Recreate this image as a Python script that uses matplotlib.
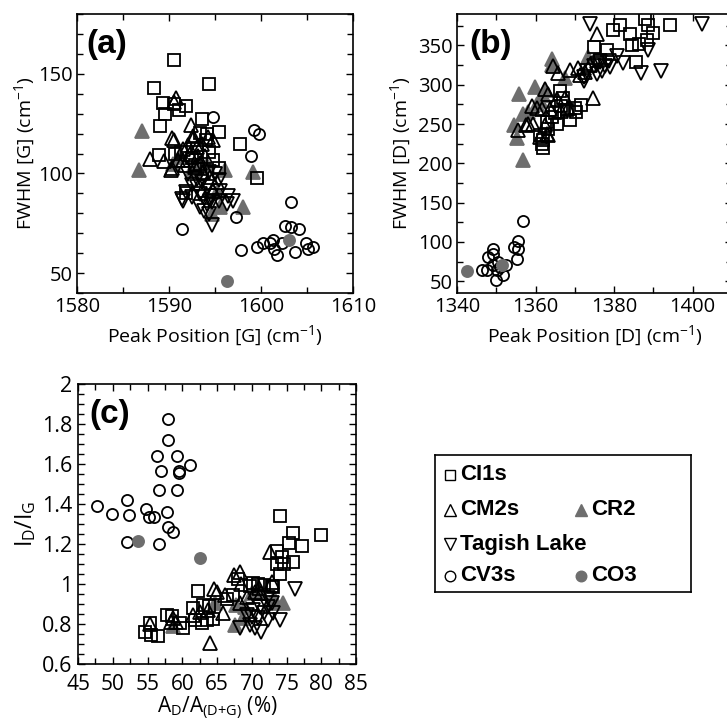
import matplotlib
matplotlib.use('Agg')
import matplotlib.pyplot as plt
from matplotlib.ticker import MultipleLocator, FormatStrFormatter
from matplotlib.lines import Line2D

plt.rcParams['font.family'] = ['Open Sans', 'DejaVu Sans']
plt.rcParams['mathtext.fontset'] = 'custom'
plt.rcParams['mathtext.rm'] = 'Open Sans'
plt.rcParams['mathtext.it'] = 'Open Sans'
plt.rcParams['mathtext.default'] = 'regular'

GRAY = '#6e6e6e'

# ---- panel (a): G band, peak position vs FWHM ----
a_ci_x = [1590.6, 1594.3, 1588.4, 1589.3, 1589.6, 1589.0, 1590.5, 1591.1, 1591.9, 1593.6, 1593.4, 1594.1, 1595.4,
          1597.7, 1599.6, 1588.9, 1590.7, 1591.3, 1593.0, 1594.4, 1594.8, 1595.4, 1591.9, 1592.5, 1594.0, 1592.8]
a_ci_y = [157, 145, 143, 135.5, 130, 124, 135, 132, 134, 127.5, 120.5, 120, 121,
          115, 97.5, 109.5, 110, 111, 113, 111, 107, 102.5, 90, 108, 117, 104]
a_cm_x = [1590.8, 1590.5, 1590.3, 1590.6, 1592.4, 1587.9, 1589.5, 1590.2, 1591.0, 1591.5, 1591.7, 1592.6, 1593.0,
          1593.6, 1594.2, 1594.8, 1593.4, 1593.9, 1592.3, 1592.8, 1594.5, 1595.2, 1594.8, 1592.1, 1593.2, 1593.7,
          1591.5, 1592.6, 1590.3]
a_cm_y = [137.7, 136, 118, 117, 124.2, 107.4, 106.2, 101.9, 107, 112.5, 104, 117.5, 113.3,
          115, 118.3, 116.7, 105, 109, 110, 103, 98, 95.6, 91.4, 114.5, 109, 100.7,
          106.6, 119, 102.5]
a_tl_x = [1593.0, 1591.9, 1591.5, 1592.5, 1593.4, 1594.1, 1594.5, 1593.8, 1594.7, 1595.4, 1595.5, 1596.3, 1596.4,
          1597.0, 1594.7, 1594.4, 1594.3, 1593.6, 1593.0, 1592.5, 1593.7, 1591.4, 1592.1, 1595.0, 1595.4, 1593.4,
          1594.1, 1594.6]
a_tl_y = [97.3, 90.6, 86.4, 88, 89.7, 93, 86.4, 81.3, 85.5, 96.5, 91.4, 84.7, 88.9,
          86.4, 74.2, 79.6, 100.7, 95.6, 93.1, 94, 88, 87.2, 99.8, 99.8, 86.4, 83,
          84.7, 88.9]
a_cv_x = [1594.8, 1599.2, 1599.8, 1598.9, 1603.3, 1591.4, 1597.3, 1597.8, 1599.6, 1600.2, 1601.0, 1601.3, 1601.4,
          1601.7, 1602.3, 1602.6, 1603.3, 1604.1, 1603.7, 1604.9, 1605.1, 1605.7]
a_cv_y = [128.5, 122, 120, 109, 85.5, 71.9, 78, 61.4, 63.3, 65.3, 65.3, 66.5, 62,
          59.1, 65.3, 73.6, 73.2, 71.9, 60.8, 65.3, 62, 63.3]
a_cr_x = [1587.1, 1586.7, 1590.4, 1591.2, 1592.5, 1593.2, 1594.1, 1596.1, 1599.1, 1598.1, 1595.5, 1594.7, 1595.2, 1592.8]
a_cr_y = [121.4, 101.9, 104.9, 108.2, 102.4, 103.2, 104, 101.9, 100.7, 83, 83, 79.6, 90.6, 101.5]
a_co_x = [1603.1, 1596.3]
a_co_y = [66.5, 46]

# ---- panel (b): D band ----
b_ci_x = [1388.0, 1388.7, 1390.0, 1388.3, 1386.4, 1384.7, 1384.0, 1381.5, 1379.8, 1394.2, 1385.5, 1375.0, 1378.3,
          1376.4, 1371.7, 1370.0, 1368.7, 1366.2, 1367.1, 1366.6, 1364.9, 1365.4, 1364.1, 1362.8, 1361.1, 1361.9,
          1361.9, 1361.6, 1363.2, 1367.9, 1370.4]
b_ci_y = [384, 375.7, 366, 356.5, 352.2, 350, 364.9, 375.5, 369.2, 375.5, 329, 348, 344.7,
          331, 274, 270, 255.5, 291.8, 283.4, 273, 264.5, 250, 258.5, 252, 235.6, 229.3,
          219.5, 225, 244, 267.3, 265]
b_cm_x = [1375.7, 1374.7, 1370.7, 1368.7, 1372.6, 1373.9, 1365.8, 1364.5, 1362.4, 1363.2, 1365.4, 1367.5, 1360.3,
          1359.0, 1363.7, 1366.6, 1368.3, 1359.4, 1358.2, 1362.4, 1362.8, 1363.2, 1361.1, 1361.6, 1371.3, 1355.6,
          1357.6]
b_cm_y = [365.1, 283.7, 321.7, 319.1, 316.5, 324.9, 314.8, 323.5, 294.3, 287.8, 281.6, 283.7, 271,
          273, 269, 267, 271, 250.5, 250.5, 248.4, 237.7, 235.6, 233.5, 269, 312.3, 242,
          248.5]
b_tl_x = [1373.9, 1388.7, 1402.4, 1386.9, 1391.9, 1382.4, 1380.7, 1378.6, 1377.8, 1376.5, 1375.7, 1374.8, 1373.2,
          1372.3, 1375.7, 1377.0, 1372.3, 1379.1]
b_tl_y = [377.6, 343.7, 376.8, 314.9, 317, 327.4, 337, 330.7, 324.3, 328.5, 326.4, 324.3, 317.9,
          309.4, 313.6, 318, 305.2, 322.2]
b_cv_x = [1356.9, 1355.6, 1355.6, 1355.2, 1354.5, 1349.2, 1348.0, 1349.2, 1346.3, 1347.7, 1349.1, 1350.1, 1350.4,
          1350.9, 1352.5, 1351.6, 1349.9]
b_cv_y = [127.2, 91.6, 101.3, 78.8, 93.7, 85.2, 81, 91.6, 64.8, 64.8, 70.4, 64.8, 74.6,
          68.2, 70.4, 57.6, 51.3]
b_cr_x = [1355.9, 1354.5, 1355.2, 1356.9, 1359.8, 1361.1, 1362.4, 1364.1, 1364.3, 1367.5, 1356.9, 1360.3, 1361.8,
          1373.4, 1358.2]
b_cr_y = [288.8, 248.5, 232.8, 204, 297.2, 280.3, 293, 333.3, 324.8, 309.1, 263.3, 276, 286.6,
          335.4, 265.5]
b_co_x = [1342.6, 1351.4]
b_co_y = [63.1, 70.4]

# ---- panel (c): ID/IG vs AD/A(D+G) ----
c_ci_x = [74.0, 76.0, 75.3, 77.3, 80.0, 73.6, 74.3, 73.7, 74.6, 76.0, 74.1, 73.1, 62.2, 54.6, 55.5, 56.5, 55.4,
          57.8, 58.5, 60.1, 59.7, 61.6, 62.8, 63.9, 64.4, 66.4, 68.0, 70.2, 70.9, 71.7, 72.9, 69.7, 67.3, 63.0,
          61.8, 63.5]
c_ci_y = [1.342, 1.253, 1.207, 1.19, 1.243, 1.167, 1.133, 1.1, 1.1, 1.112, 1.052, 0.987, 0.967, 0.762, 0.745,
          0.742, 0.807, 0.843, 0.84, 0.778, 0.803, 0.878, 0.803, 0.892, 0.827, 0.925, 1.023, 1.007, 1.0, 0.995,
          0.99, 0.99, 0.945, 0.895, 0.82, 0.82]
c_cm_x = [67.5, 68.3, 68.5, 64.5, 65.0, 66.2, 72.9, 64.0, 65.9, 61.6, 62.6, 63.7, 69.3, 70.5, 71.4, 68.3, 55.4,
          58.7, 58.4, 59.1, 72.6, 71.0]
c_cm_y = [1.045, 1.062, 1.0, 0.973, 0.962, 0.945, 1.012, 0.703, 0.853, 0.845, 0.862, 0.87, 0.937, 0.962, 0.953,
          0.903, 0.798, 0.832, 0.812, 0.81, 1.16, 0.98]
c_tl_x = [76.2, 74.1, 72.4, 72.9, 71.2, 70.2, 69.3, 68.3, 69.7, 70.5, 71.4, 72.4, 73.1, 70.9, 72.4, 71.7, 70.0]
c_tl_y = [0.973, 0.82, 0.928, 0.903, 0.887, 0.87, 0.845, 0.778, 0.795, 0.778, 0.762, 0.82, 0.853, 0.828, 0.887,
          0.853, 0.837]
c_cv_x = [47.8, 49.9, 52.1, 52.3, 52.0, 54.8, 55.2, 55.9, 56.7, 56.3, 56.9, 56.7, 57.9, 57.9, 57.8, 58.0, 58.6,
          59.3, 59.5, 59.5, 59.3, 61.1]
c_cv_y = [1.39, 1.35, 1.42, 1.345, 1.21, 1.373, 1.337, 1.337, 1.2, 1.64, 1.565, 1.47, 1.823, 1.72, 1.36, 1.287,
          1.258, 1.642, 1.565, 1.557, 1.47, 1.595]
c_cr_x = [58.6, 64.7, 67.8, 68.8, 67.6, 72.6, 74.5, 70.0, 71.2, 69.0, 73.2]
c_cr_y = [0.79, 0.903, 0.895, 0.828, 0.795, 0.903, 0.903, 0.953, 0.962, 0.887, 0.93]
c_co_x = [53.7, 62.6]
c_co_y = [1.213, 1.128]

styles = {
    'CI1s': dict(marker='s', ms=8, mfc='none', mec='black'),
    'CM2s': dict(marker='^', ms=9.5, mfc='none', mec='black'),
    'Tagish Lake': dict(marker='v', ms=9.5, mfc='none', mec='black'),
    'CV3s': dict(marker='o', ms=8, mfc='none', mec='black'),
    'CR2': dict(marker='^', ms=9.5, mfc=GRAY, mec=GRAY),
    'CO3': dict(marker='o', ms=8, mfc=GRAY, mec=GRAY),
}


def draw_panel(ax, data, tag, tag_x):
    for name in ['CR2', 'CI1s', 'CM2s', 'Tagish Lake', 'CV3s', 'CO3']:
        xs, ys = data[name]
        ax.plot(xs, ys, ls='none', mew=1.3, **styles[name])
    ax.tick_params(which='both', direction='in', top=True, right=True, width=1, labelsize=14.5, pad=3)
    ax.tick_params(which='major', length=5)
    ax.tick_params(which='minor', length=4)
    for s in ax.spines.values():
        s.set_linewidth(1.2)
    ax.text(tag_x, 0.89, tag, transform=ax.transAxes, fontsize=24, fontweight='bold',
            family=['Liberation Sans', 'DejaVu Sans'], va='center', ha='left')


fig = plt.figure(figsize=(7.27, 7.23), dpi=100)

# (a)
ax_a = fig.add_axes([0.1059, 0.5947, 0.3796, 0.3859])
draw_panel(ax_a, {'CI1s': (a_ci_x, a_ci_y), 'CM2s': (a_cm_x, a_cm_y), 'Tagish Lake': (a_tl_x, a_tl_y),
                  'CV3s': (a_cv_x, a_cv_y), 'CR2': (a_cr_x, a_cr_y), 'CO3': (a_co_x, a_co_y)}, '(a)', 0.035)
ax_a.set_xlim(1580, 1610)
ax_a.set_ylim(40, 180)
ax_a.xaxis.set_major_locator(MultipleLocator(10))
ax_a.xaxis.set_minor_locator(MultipleLocator(5))
ax_a.yaxis.set_major_locator(MultipleLocator(50))
ax_a.yaxis.set_minor_locator(MultipleLocator(10))
ax_a.set_xlabel('Peak Position [G] (cm$^{-1}$)', fontsize=14, labelpad=5)
ax_a.set_ylabel('FWHM [G] (cm$^{-1}$)', fontsize=14, labelpad=1)

# (b)
ax_b = fig.add_axes([0.6286, 0.5947, 0.378, 0.3859])
draw_panel(ax_b, {'CI1s': (b_ci_x, b_ci_y), 'CM2s': (b_cm_x, b_cm_y), 'Tagish Lake': (b_tl_x, b_tl_y),
                  'CV3s': (b_cv_x, b_cv_y), 'CR2': (b_cr_x, b_cr_y), 'CO3': (b_co_x, b_co_y)}, '(b)', 0.045)
ax_b.set_xlim(1340, 1410)
ax_b.set_ylim(35, 390)
ax_b.xaxis.set_major_locator(MultipleLocator(20))
ax_b.xaxis.set_minor_locator(MultipleLocator(10))
ax_b.yaxis.set_major_locator(MultipleLocator(50))
ax_b.yaxis.set_minor_locator(MultipleLocator(25))
ax_b.set_xlabel('Peak Position [D] (cm$^{-1}$)', fontsize=14, labelpad=5)
ax_b.set_ylabel('FWHM [D] (cm$^{-1}$)', fontsize=14, labelpad=4)

# (c)
ax_c = fig.add_axes([0.1073, 0.0816, 0.3824, 0.3873])
draw_panel(ax_c, {'CI1s': (c_ci_x, c_ci_y), 'CM2s': (c_cm_x, c_cm_y), 'Tagish Lake': (c_tl_x, c_tl_y),
                  'CV3s': (c_cv_x, c_cv_y), 'CR2': (c_cr_x, c_cr_y), 'CO3': (c_co_x, c_co_y)}, '(c)', 0.04)
ax_c.set_xlim(45, 85)
ax_c.set_ylim(0.6, 2)
ax_c.xaxis.set_major_locator(MultipleLocator(5))
ax_c.xaxis.set_minor_locator(MultipleLocator(2.5))
ax_c.yaxis.set_major_locator(MultipleLocator(0.2))
ax_c.yaxis.set_minor_locator(MultipleLocator(0.05))
ax_c.yaxis.set_major_formatter(FormatStrFormatter('%g'))
ax_c.tick_params(axis='x', labelsize=15, pad=7)
ax_c.tick_params(axis='y', labelsize=15.5, pad=4)
ax_c.set_xlabel('A$_D$/A$_{(D{+}G)}$ (%)', fontsize=15, labelpad=0)
ax_c.set_ylabel('I$_D$/I$_G$', fontsize=16.5, labelpad=3)

# legend box
ax_l = fig.add_axes([0.598, 0.181, 0.352, 0.1895])
ax_l.set_xlim(0, 1)
ax_l.set_ylim(0, 1)
ax_l.set_xticks([])
ax_l.set_yticks([])
for s in ax_l.spines.values():
    s.set_linewidth(1.2)
rows = [('CI1s', 0.06, 0.855), ('CM2s', 0.06, 0.6), ('CR2', 0.57, 0.6),
        ('Tagish Lake', 0.06, 0.35), ('CV3s', 0.06, 0.12), ('CO3', 0.57, 0.12)]
for name, lx, ly in rows:
    st = dict(styles[name])
    st['ms'] = st['ms'] * 0.95
    ax_l.add_line(Line2D([lx], [ly], ls='none', mew=1.0, **st))
    ax_l.text(lx + 0.04, ly, name, fontsize=16, fontweight='bold', va='center', ha='left',
              family=['Liberation Sans', 'DejaVu Sans'])

fig.savefig('out.png', dpi=100)
